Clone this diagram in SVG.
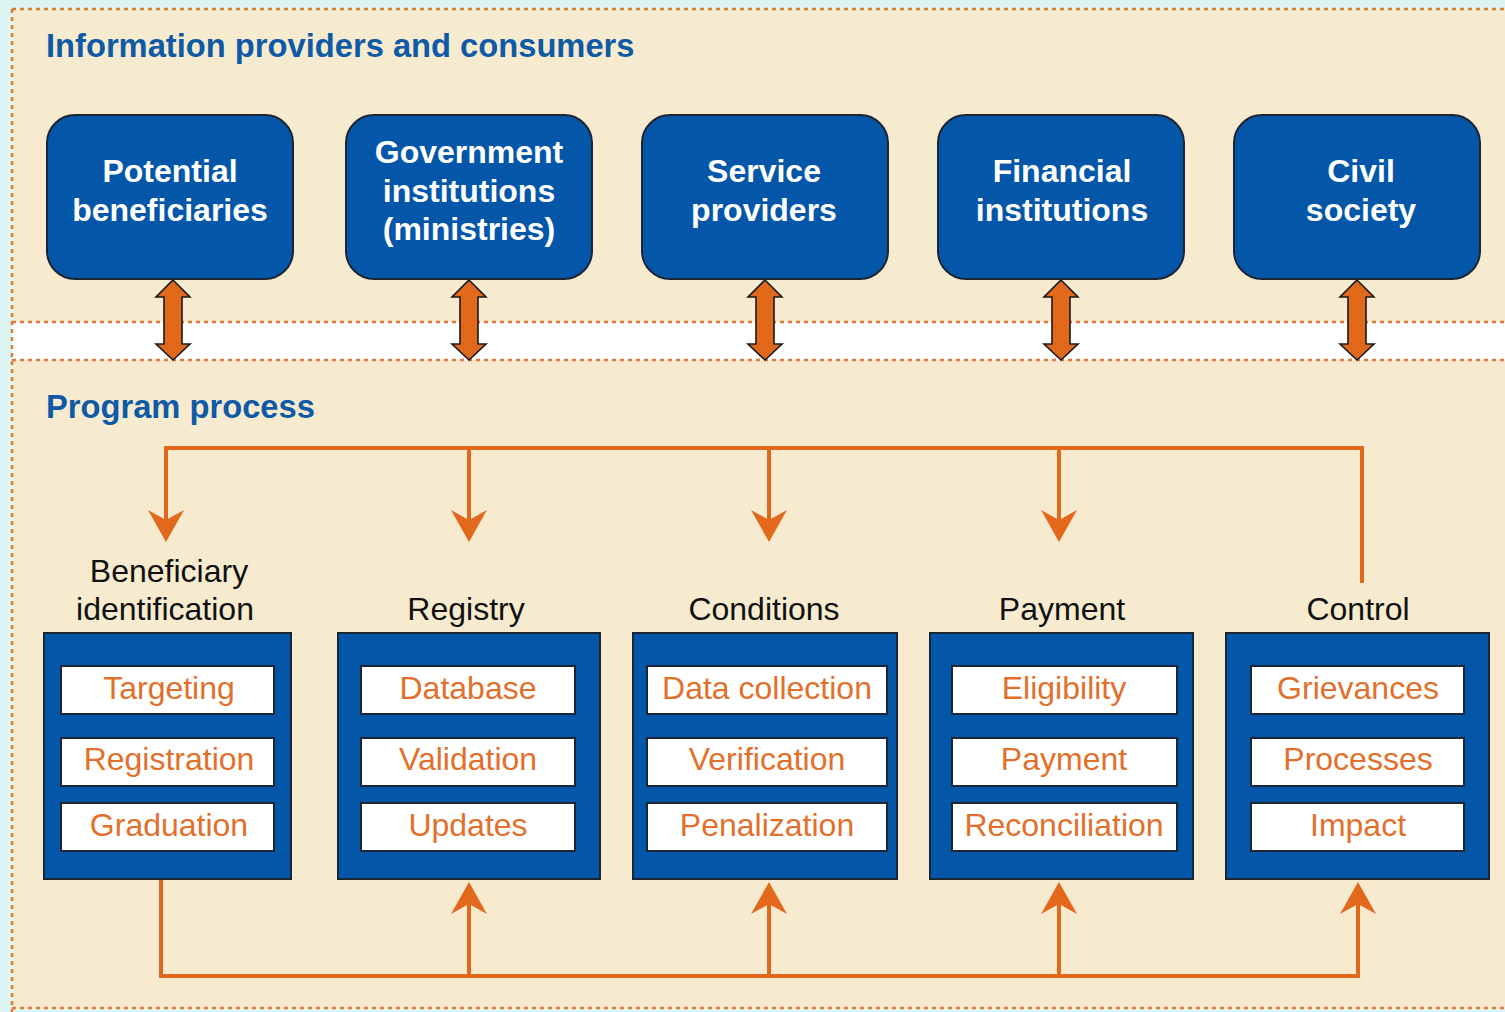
<svg xmlns="http://www.w3.org/2000/svg" width="1505" height="1012" viewBox="0 0 1505 1012">
<style>
.panel{fill:#f6ebcf}
.dot{fill:none;stroke:#e07a3a;stroke-width:2.5;stroke-dasharray:4 4}
.prov{fill:#0457a8;stroke:#1c2633;stroke-width:2}
.provt{font-family:"Liberation Sans",Arial,sans-serif;font-weight:bold;font-size:32px;fill:#ffffff;text-anchor:middle}
.dbl{fill:#e2691c;stroke:#1a1a1a;stroke-width:1.6;stroke-linejoin:miter}
.head{font-family:"Liberation Sans",Arial,sans-serif;font-weight:bold;font-size:32.7px;fill:#0f5aa6}
.proc{fill:#0457a8;stroke:#1c2633;stroke-width:2}
.item{fill:#ffffff;stroke:#1c2633;stroke-width:2}
.itemt{font-family:"Liberation Sans",Arial,sans-serif;font-size:32px;fill:#e2702a;text-anchor:middle}
.lbl{font-family:"Liberation Sans",Arial,sans-serif;font-size:32px;fill:#111111;text-anchor:middle}
.con{fill:none;stroke:#e2691c;stroke-width:4}
</style>
<defs>
<marker id="ah" markerUnits="userSpaceOnUse" markerWidth="40" markerHeight="40" refX="10" refY="18" orient="auto" viewBox="0 0 40 40">
<path d="M0,0 L32,18 L0,36 L10,18 Z" fill="#e2691c"/>
</marker>
</defs>
<rect x="0" y="0" width="1505" height="1012" fill="#dcf5f3"/>
<rect class="panel" x="12" y="9" width="1493" height="1000"/>
<rect x="12" y="322" width="1493" height="38" fill="#ffffff"/>
<g id="frame">
<path class="dot" d="M12,9 H1505"/>
<path class="dot" d="M12,9 V1012"/>
<path class="dot" d="M12,322 H1505"/>
<path class="dot" d="M12,360 H1505"/>
<path class="dot" d="M12,1008 H1505"/>
</g>
<text class="head" x="46" y="57">Information providers and consumers</text>
<text class="head" x="46" y="418">Program process</text>

<g id="connectors">
<g id="double-arrows">
<path class="dbl" d="M173,280 L190,297 L182,297 L182,344 L190,344 L173,360 L156,344 L164,344 L164,297 L156,297 Z"/>
<path class="dbl" d="M469,280 L486,297 L478,297 L478,344 L486,344 L469,360 L452,344 L460,344 L460,297 L452,297 Z"/>
<path class="dbl" d="M765,280 L782,297 L774,297 L774,344 L782,344 L765,360 L748,344 L756,344 L756,297 L748,297 Z"/>
<path class="dbl" d="M1061,280 L1078,297 L1070,297 L1070,344 L1078,344 L1061,360 L1044,344 L1052,344 L1052,297 L1044,297 Z"/>
<path class="dbl" d="M1357,280 L1374,297 L1366,297 L1366,344 L1374,344 L1357,360 L1340,344 L1348,344 L1348,297 L1340,297 Z"/>
</g>
<path class="con" d="M166,448 H1362 V583"/>
<path class="con" d="M166,446 V520" marker-end="url(#ah)"/>
<path class="con" d="M469,448 V520" marker-end="url(#ah)"/>
<path class="con" d="M769,448 V520" marker-end="url(#ah)"/>
<path class="con" d="M1059,448 V520" marker-end="url(#ah)"/>
<path class="con" d="M161,880 V976 H1358 V904" marker-end="url(#ah)"/>
<path class="con" d="M469,976 V904" marker-end="url(#ah)"/>
<path class="con" d="M769,976 V904" marker-end="url(#ah)"/>
<path class="con" d="M1059,976 V904" marker-end="url(#ah)"/>
</g>

<g id="node-potential-beneficiaries">
<rect class="prov" x="47" y="115" width="246" height="164" rx="28"/>
<text class="provt" x="170" y="182">Potential</text>
<text class="provt" x="170" y="221">beneficiaries</text>
</g>
<g id="node-government-institutions">
<rect class="prov" x="346" y="115" width="246" height="164" rx="28"/>
<text class="provt" x="469" y="163">Government</text>
<text class="provt" x="469" y="202">institutions</text>
<text class="provt" x="469" y="240">(ministries)</text>
</g>
<g id="node-service-providers">
<rect class="prov" x="642" y="115" width="246" height="164" rx="28"/>
<text class="provt" x="764" y="182">Service</text>
<text class="provt" x="764" y="221">providers</text>
</g>
<g id="node-financial-institutions">
<rect class="prov" x="938" y="115" width="246" height="164" rx="28"/>
<text class="provt" x="1062" y="182">Financial</text>
<text class="provt" x="1062" y="221">institutions</text>
</g>
<g id="node-civil-society">
<rect class="prov" x="1234" y="115" width="246" height="164" rx="28"/>
<text class="provt" x="1361" y="182">Civil</text>
<text class="provt" x="1361" y="221">society</text>
</g>

<g id="node-beneficiary-identification">
<text class="lbl" x="169" y="582">Beneficiary</text>
<text class="lbl" x="165" y="620">identification</text>
<rect class="proc" x="44" y="633" width="247" height="246"/>
<rect class="item" x="61" y="666" width="213" height="48"/>
<rect class="item" x="61" y="738" width="213" height="48"/>
<rect class="item" x="61" y="803" width="213" height="48"/>
<text class="itemt" x="169" y="699">Targeting</text>
<text class="itemt" x="169" y="770">Registration</text>
<text class="itemt" x="169" y="836">Graduation</text>
</g>
<g id="node-registry">
<text class="lbl" x="466" y="620">Registry</text>
<rect class="proc" x="338" y="633" width="262" height="246"/>
<rect class="item" x="361" y="666" width="214" height="48"/>
<rect class="item" x="361" y="738" width="214" height="48"/>
<rect class="item" x="361" y="803" width="214" height="48"/>
<text class="itemt" x="468" y="699">Database</text>
<text class="itemt" x="468" y="770">Validation</text>
<text class="itemt" x="468" y="836">Updates</text>
</g>
<g id="node-conditions">
<text class="lbl" x="764" y="620">Conditions</text>
<rect class="proc" x="633" y="633" width="264" height="246"/>
<rect class="item" x="647" y="666" width="240" height="48"/>
<rect class="item" x="647" y="738" width="240" height="48"/>
<rect class="item" x="647" y="803" width="240" height="48"/>
<text class="itemt" x="767" y="699">Data collection</text>
<text class="itemt" x="767" y="770">Verification</text>
<text class="itemt" x="767" y="836">Penalization</text>
</g>
<g id="node-payment">
<text class="lbl" x="1062" y="620">Payment</text>
<rect class="proc" x="930" y="633" width="263" height="246"/>
<rect class="item" x="952" y="666" width="225" height="48"/>
<rect class="item" x="952" y="738" width="225" height="48"/>
<rect class="item" x="952" y="803" width="225" height="48"/>
<text class="itemt" x="1064" y="699">Eligibility</text>
<text class="itemt" x="1064" y="770">Payment</text>
<text class="itemt" x="1064" y="836">Reconciliation</text>
</g>
<g id="node-control">
<text class="lbl" x="1358" y="620">Control</text>
<rect class="proc" x="1226" y="633" width="263" height="246"/>
<rect class="item" x="1251" y="666" width="213" height="48"/>
<rect class="item" x="1251" y="738" width="213" height="48"/>
<rect class="item" x="1251" y="803" width="213" height="48"/>
<text class="itemt" x="1358" y="699">Grievances</text>
<text class="itemt" x="1358" y="770">Processes</text>
<text class="itemt" x="1358" y="836">Impact</text>
</g>
</svg>
